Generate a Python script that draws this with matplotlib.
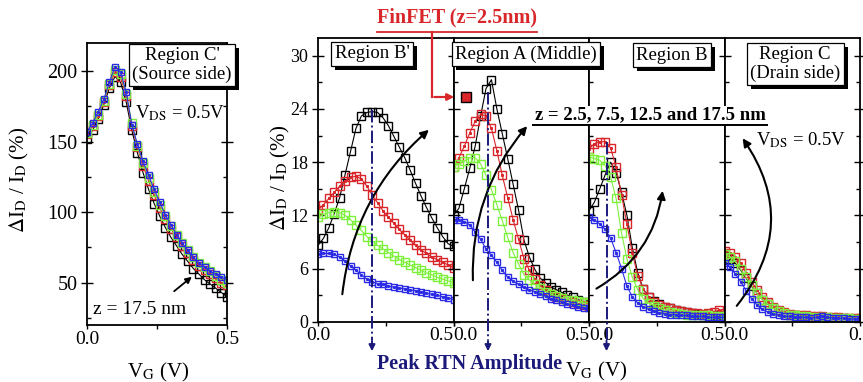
import matplotlib
matplotlib.use("Agg")
import matplotlib.pyplot as plt
from matplotlib.patches import FancyArrowPatch, Rectangle
from matplotlib.lines import Line2D

plt.rcParams['font.family'] = ['Liberation Serif', 'DejaVu Serif']
plt.rcParams['mathtext.fontset'] = 'stix'
plt.rcParams['font.size'] = 13

# gate voltage sweep (V)
v_g = [0.00, 0.02, 0.04, 0.06, 0.08, 0.10, 0.12, 0.14, 0.16, 0.18, 0.20, 0.22, 0.24,
       0.26, 0.28, 0.30, 0.32, 0.34, 0.36, 0.38, 0.40, 0.42, 0.44, 0.46, 0.48, 0.50]

# Region C' (source side), dI/I in %
c1_z17 = [152, 158, 166, 176, 188, 196, 192, 178, 158, 142, 128, 116, 106, 97, 89, 82,
          76, 70, 65, 60, 56, 52, 49, 46, 43, 40]
c1_z12 = [155, 161, 168, 178, 190, 199, 196, 182, 161, 146, 133, 122, 112, 103, 95, 88,
          82, 76, 71, 66, 62, 59, 56, 53, 50, 48]
c1_z7 = [156, 162, 169, 179, 191, 201, 198, 184, 163, 147, 135, 124, 114, 105, 97, 90,
         84, 78, 73, 68, 64, 61, 58, 55, 52, 50]
c1_z2 = [157, 163, 171, 180, 192, 203, 199, 185, 162, 148, 136, 126, 116, 107, 98, 91,
         84, 78, 73, 68, 64, 61, 58, 56, 54, 52]

# Region B'
b1_z17 = [8.6, 9.4, 10.6, 12.2, 14.0, 16.6, 19.2, 21.8, 23.2, 23.6, 23.7, 23.6, 23.0,
          22.1, 20.9, 19.7, 18.5, 17.1, 15.6, 14.2, 12.9, 11.7, 10.6, 9.6, 8.8, 8.5]
b1_z12 = [12.6, 13.2, 13.9, 14.6, 15.3, 15.9, 16.3, 16.4, 16.1, 15.3, 14.3, 13.4, 12.5,
          11.8, 11.1, 10.4, 9.8, 9.2, 8.6, 8.1, 7.7, 7.3, 7.0, 6.7, 6.4, 6.1]
b1_z7 = [11.8, 12.1, 12.3, 12.4, 12.3, 12.0, 11.5, 10.9, 10.3, 9.6, 9.1, 8.6, 8.2,
         7.8, 7.4, 7.0, 6.7, 6.4, 6.1, 5.8, 5.5, 5.3, 5.0, 4.8, 4.6, 4.4]
b1_z2 = [7.6, 7.7, 7.7, 7.6, 7.3, 6.8, 6.3, 5.8, 5.3, 4.8, 4.5, 4.3, 4.2,
         4.0, 3.9, 3.8, 3.7, 3.6, 3.5, 3.4, 3.2, 3.1, 3.0, 2.8, 2.7, 2.5]

# Region A (middle)
a_z17 = [12.0, 12.8, 15.0, 17.3, 19.8, 23.2, 26.3, 27.3, 24.0, 21.2, 18.4, 15.5, 12.6,
         9.2, 7.3, 5.9, 4.9, 4.4, 3.9, 3.6, 3.3, 3.0, 2.8, 2.5, 2.2, 2.0]
a_z12 = [17.5, 18.5, 19.8, 21.3, 22.6, 23.4, 23.2, 21.8, 19.3, 16.5, 14.0, 11.5, 9.3,
         7.1, 5.8, 4.8, 4.1, 3.6, 3.1, 2.8, 2.6, 2.4, 2.2, 2.0, 1.9, 1.7]
a_z7 = [17.5, 17.8, 18.1, 18.5, 18.5, 17.8, 16.5, 14.9, 13.2, 11.4, 9.5, 7.8, 6.5,
        5.3, 4.7, 4.2, 3.8, 3.4, 3.1, 2.9, 2.7, 2.5, 2.4, 2.3, 2.2, 2.1]
a_z2 = [11.5, 11.5, 11.3, 10.9, 10.1, 9.3, 8.2, 7.5, 6.7, 5.8, 5.0, 4.6, 4.2,
        3.9, 3.6, 3.4, 3.1, 2.9, 2.6, 2.4, 2.2, 2.0, 1.9, 1.7, 1.6, 1.5]

# Region B
b_z17 = [12.5, 13.5, 15.0, 16.6, 18.0, 16.8, 14.6, 12.0, 8.3, 5.5, 3.7, 2.8, 2.3,
         2.0, 1.7, 1.5, 1.3, 1.2, 1.1, 1.0, 0.9, 0.8, 0.8, 0.7, 0.7, 0.6]
b_z12 = [19.5, 20.1, 20.3, 20.3, 19.6, 17.4, 14.3, 11.0, 7.7, 5.2, 3.7, 2.8, 2.2,
         1.9, 1.7, 1.5, 1.3, 1.2, 1.1, 1.0, 1.0, 0.9, 1.0, 1.1, 1.3, 1.0]
b_z7 = [18.6, 18.4, 18.2, 17.6, 16.3, 13.9, 10.0, 7.1, 5.0, 3.6, 2.6, 2.1, 1.8,
        1.5, 1.3, 1.1, 1.0, 0.9, 0.8, 0.8, 0.7, 0.7, 0.7, 0.6, 0.6, 0.6]
b_z2 = [11.8, 11.5, 11.0, 10.4, 9.4, 7.8, 6.0, 4.0, 2.8, 2.1, 1.7, 1.4, 1.2,
        1.0, 0.9, 0.8, 0.8, 0.7, 0.7, 0.6, 0.6, 0.6, 0.5, 0.5, 0.5, 0.5]

# Region C (drain side)
c_z17 = [7.4, 7.1, 6.6, 5.8, 4.9, 4.0, 3.2, 2.5, 2.0, 1.5, 1.2, 1.0, 0.8,
         0.7, 0.6, 0.6, 0.5, 0.5, 0.5, 0.4, 0.4, 0.4, 0.4, 0.3, 0.3, 0.3]
c_z12 = [8.0, 7.8, 7.3, 6.6, 5.5, 4.5, 3.6, 2.8, 2.2, 1.7, 1.3, 1.1, 0.9,
         0.8, 0.7, 0.7, 0.6, 0.6, 0.6, 0.5, 0.5, 0.5, 0.4, 0.4, 0.4, 0.4]
c_z7 = [7.6, 7.3, 6.8, 5.9, 5.0, 4.1, 3.2, 2.5, 2.0, 1.5, 1.2, 1.0, 0.8,
        0.7, 0.6, 0.6, 0.5, 0.5, 0.5, 0.5, 0.4, 0.4, 0.4, 0.4, 0.3, 0.3]
c_z2 = [6.6, 6.2, 5.4, 4.5, 3.5, 2.6, 1.9, 1.4, 1.1, 0.9, 0.7, 0.6, 0.6,
        0.5, 0.5, 0.5, 0.4, 0.5, 0.6, 0.5, 0.4, 0.4, 0.4, 0.3, 0.3, 0.3]

RED = '#d8262a'
GREEN = '#7df03c'
BLUE = '#2b2be6'
NAVY = '#1b1a7a'
# colour, marker size, dotted centre
styles = [('black', 5.6, False), (RED, 5.2, True), (GREEN, 5.2, False), (BLUE, 4.4, True)]

W, H = 863, 382


def fx(px):
    return px / W


def fy(py):
    return 1 - py / H


def draw_series(ax, series):
    for ys, (col, ms, dot) in zip(series, styles):
        ax.plot(v_g, ys, color=col, lw=0.8, marker='s', ms=ms, mfc='none', mec=col, mew=1.0)
        if dot:
            ax.plot(v_g, ys, ls='none', marker='s', ms=1.2, color=col)


def style_axes(ax):
    ax.set_xlim(0, 0.5)
    ax.set_xticks([0, 0.5])
    ax.set_xticklabels(['0.0', '0.5'], fontsize=14)
    ax.set_xticks([0.25], minor=True)
    ax.tick_params(axis='x', which='both', direction='out', length=3, width=1, pad=1)
    ax.tick_params(axis='y', which='major', direction='inout', length=8, width=1, pad=3)
    ax.tick_params(axis='y', which='minor', direction='in', length=3, width=1)
    for s in ax.spines.values():
        s.set_linewidth(1.3)


fig = plt.figure(figsize=(8.63, 3.82), dpi=100)

# source-side panel
ax_c1 = fig.add_axes([fx(87), fy(325), fx(140), 282.3 / H])
draw_series(ax_c1, [c1_z17, c1_z12, c1_z7, c1_z2])
style_axes(ax_c1)
ax_c1.set_ylim(20, 220)
ax_c1.set_yticks([50, 100, 150, 200])
ax_c1.set_yticks([25, 75, 125, 175], minor=True)
ax_c1.tick_params(axis='y', which='both', right=True, labelsize=14.5)

# four panels along the channel
panel_w = 135.5
panels = []
for i in range(4):
    ax = fig.add_axes([fx(318 + i * panel_w), fy(321.7), fx(panel_w), 283.7 / H])
    style_axes(ax)
    ax.set_ylim(0, 32)
    ax.set_yticks([0, 6, 12, 18, 24, 30])
    ax.set_yticks([3, 9, 15, 21, 27], minor=True)
    ax.tick_params(axis='y', labelsize=13)
    if i > 0:
        ax.tick_params(axis='y', labelleft=False)
    ticks = ax.xaxis.get_major_ticks()
    ticks[0].label1.set_horizontalalignment('center' if i == 0 else 'left')
    ticks[1].label1.set_horizontalalignment('center' if i == 3 else 'right')
    panels.append(ax)
panels[3].tick_params(axis='y', which='both', right=True)

draw_series(panels[0], [b1_z17, b1_z12, b1_z7, b1_z2])
draw_series(panels[1], [a_z17, a_z12, a_z7, a_z2])
draw_series(panels[2], [b_z17, b_z12, b_z7, b_z2])
draw_series(panels[3], [c_z17, c_z12, c_z7, c_z2])

# region labels: white boxes with a drop shadow
renderer = fig.canvas.get_renderer()


def region_box(x, y, text):
    t = fig.text(fx(x), fy(y), text, ha='center', va='center', fontsize=13.5, linespacing=1.1,
                 zorder=7, bbox=dict(boxstyle='square,pad=0.18', fc='white', ec='black', lw=0.9))
    t.update_bbox_position_size(renderer)
    bb = t.get_bbox_patch().get_window_extent(renderer)
    fig.add_artist(Rectangle((fx(bb.x0 + 4), (bb.y0 - 4) / H), fx(bb.width), bb.height / H,
                             transform=fig.transFigure, fc='black', ec='none', zorder=6))


region_box(182, 65, "Region C'\n(Source side)")
region_box(372, 54, "Region B'")
region_box(526, 54, "Region A (Middle)")
region_box(672, 55, "Region B")
region_box(795, 64, "Region C\n(Drain side)")

# axis titles
ylab = r'$\Delta$I$_\mathrm{D}$ / I$_\mathrm{D}$ (%)'
fig.text(fx(19), fy(180), ylab, rotation=90, ha='center', va='center', fontsize=15)
fig.text(fx(280), fy(178), ylab, rotation=90, ha='center', va='center', fontsize=15)
fig.text(fx(158), fy(372), r'V$_\mathrm{G}$ (V)', ha='center', va='center', fontsize=15)
fig.text(fx(596), fy(371), r'V$_\mathrm{G}$ (V)', ha='center', va='center', fontsize=15)

fig.text(fx(180), fy(113), r'V$_\mathrm{DS}$ = 0.5V', ha='center', va='center', fontsize=13.5)
fig.text(fx(801), fy(140), r'V$_\mathrm{DS}$ = 0.5V', ha='center', va='center', fontsize=13.5)
fig.text(fx(140), fy(309), 'z = 17.5 nm', ha='center', va='center', fontsize=14)
fig.add_artist(FancyArrowPatch((fx(172), fy(293)), (fx(194), fy(275)), transform=fig.transFigure,
                               arrowstyle='-|>', mutation_scale=9, color='black', lw=1.3))

# FinFET marker callout
fig.text(fx(457), fy(17), 'FinFET (z=2.5nm)', color=RED, fontweight='bold', fontsize=14.5,
         ha='center', va='center')
fig.add_artist(Line2D([fx(377), fx(537)], [fy(32), fy(32)], color=RED, lw=1.3))
fig.add_artist(Line2D([fx(432), fx(432)], [fy(32), fy(97)], color=RED, lw=1.6))
fig.add_artist(FancyArrowPatch((fx(431.5), fy(97)), (fx(457), fy(97)), transform=fig.transFigure,
                               arrowstyle='-|>', mutation_scale=10, color=RED, lw=1.6))
fig.add_artist(Line2D([fx(466)], [fy(97)], marker='s', ms=7.5, mfc=RED, mec='black', mew=1.0))

fig.text(fx(650), fy(115), 'z = 2.5, 7.5, 12.5 and 17.5 nm', fontweight='bold', fontsize=13.5,
         ha='center', va='center', zorder=6,
         bbox=dict(boxstyle='square,pad=0.05', fc='white', ec='none'))
fig.add_artist(Line2D([fx(533), fx(767)], [fy(124.5), fy(124.5)], color='black', lw=1.4, zorder=7))

# trend arrows across the depth sweep
for p0, p1, rad in [((342, 297), (431, 128), -0.2),
                    ((473, 283), (529, 124), -0.2),
                    ((594, 290), (663, 188), 0.25),
                    ((735, 308), (741, 136), 0.38)]:
    fig.add_artist(FancyArrowPatch((fx(p0[0]), fy(p0[1])), (fx(p1[0]), fy(p1[1])),
                                   transform=fig.transFigure, connectionstyle=f'arc3,rad={rad}',
                                   arrowstyle='-|>', mutation_scale=12, color='black', lw=1.5))

# peak positions
for x, y0 in [(372, 110), (488, 92), (606.5, 142)]:
    fig.add_artist(Line2D([fx(x), fx(x)], [fy(y0), fy(340)], color=NAVY, lw=1.4, ls='-.'))
    fig.add_artist(FancyArrowPatch((fx(x), fy(338)), (fx(x), fy(354)), transform=fig.transFigure,
                                   arrowstyle='-|>', mutation_scale=9, color=NAVY, lw=1.4))
fig.text(fx(470), fy(364), 'Peak RTN Amplitude', color=NAVY, fontweight='bold', fontsize=14.5,
         ha='center', va='center')

fig.savefig('out.png', dpi=100)
